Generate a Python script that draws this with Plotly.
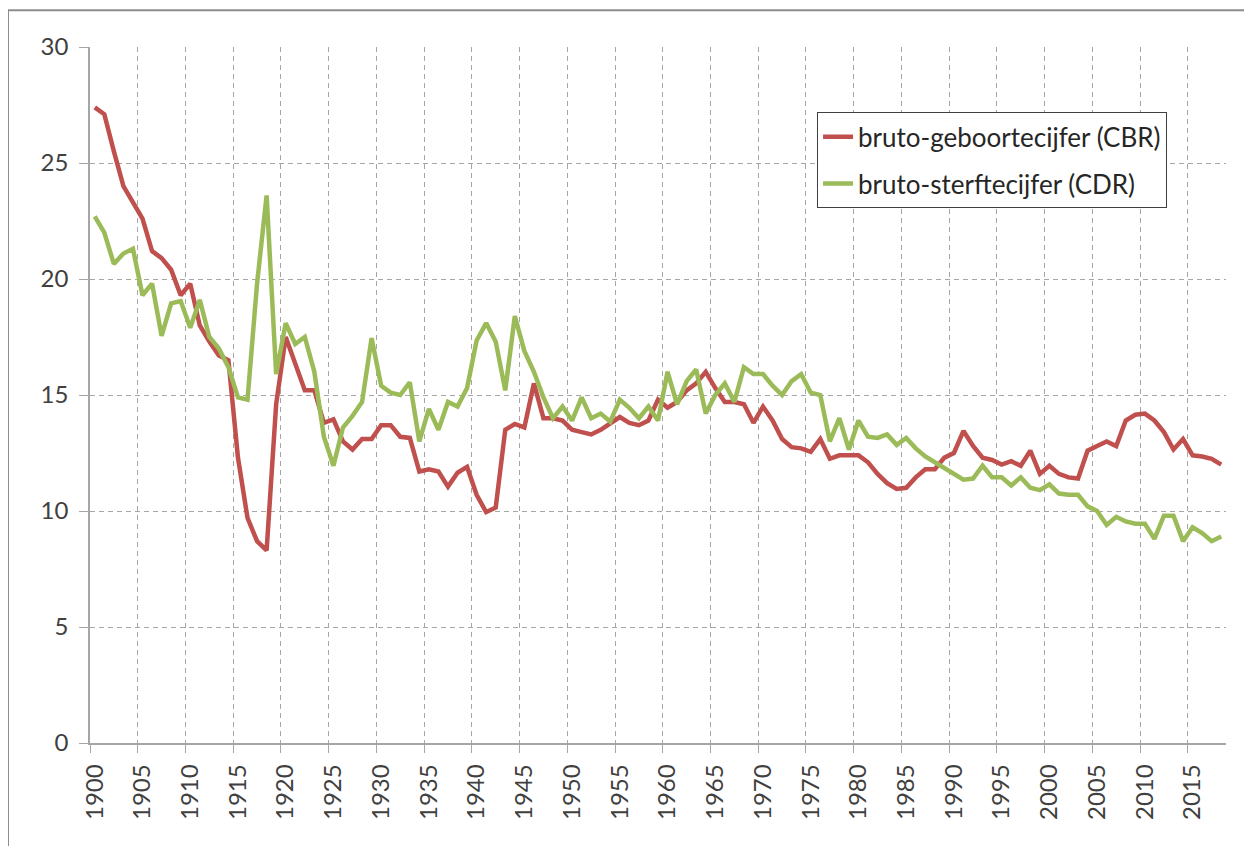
import plotly.graph_objects as go

years = list(range(1900, 2019))

# bruto-geboortecijfer (CBR), per 1000
cbr = [27.4, 27.1, 25.5, 24.0, 23.3, 22.6, 21.2, 20.9, 20.4, 19.3,
       19.8, 18.0, 17.3, 16.7, 16.5, 12.3, 9.7, 8.7, 8.3, 14.6,
       17.5, 16.4, 15.2, 15.2, 13.8, 13.95, 13.0, 12.65, 13.1, 13.1,
       13.7, 13.7, 13.2, 13.15, 11.7, 11.8, 11.7, 11.05, 11.65, 11.9,
       10.7, 9.95, 10.15, 13.5, 13.75, 13.6, 15.5, 14.0, 14.0, 13.9,
       13.5, 13.4, 13.3, 13.5, 13.8, 14.05, 13.8, 13.7, 13.9, 14.8,
       14.45, 14.7, 15.2, 15.5, 16.0, 15.3, 14.7, 14.7, 14.6, 13.8,
       14.5, 13.9, 13.1, 12.75, 12.7, 12.55, 13.1, 12.25, 12.4, 12.4,
       12.4, 12.1, 11.6, 11.2, 10.95, 11.0, 11.45, 11.8, 11.8, 12.3,
       12.5, 13.45, 12.8, 12.3, 12.2, 12.0, 12.15, 11.95, 12.6, 11.6,
       11.95, 11.6, 11.45, 11.4, 12.6, 12.8, 13.0, 12.8, 13.9, 14.15,
       14.2, 13.9, 13.4, 12.65, 13.1, 12.4, 12.35, 12.25, 12.0]

# bruto-sterftecijfer (CDR), per 1000
cdr = [22.7, 22.0, 20.65, 21.1, 21.3, 19.3, 19.8, 17.55, 18.95, 19.05,
       17.9, 19.1, 17.5, 17.0, 16.2, 14.9, 14.8, 19.8, 23.6, 15.9,
       18.1, 17.2, 17.5, 16.0, 13.2, 11.95, 13.6, 14.1, 14.7, 17.45,
       15.4, 15.1, 15.0, 15.55, 13.0, 14.4, 13.5, 14.7, 14.5, 15.3,
       17.35, 18.1, 17.3, 15.2, 18.4, 16.9, 16.0, 14.9, 14.0, 14.5,
       13.9, 14.9, 14.0, 14.2, 13.85, 14.8, 14.45, 14.0, 14.5, 13.9,
       16.0, 14.6, 15.6, 16.1, 14.2, 15.0, 15.5, 14.7, 16.2, 15.9,
       15.9, 15.4, 15.0, 15.6, 15.9, 15.1, 15.0, 13.0, 14.0, 12.65,
       13.9, 13.2, 13.15, 13.3, 12.85, 13.15, 12.7, 12.35, 12.1, 11.85,
       11.6, 11.35, 11.4, 11.95, 11.45, 11.45, 11.1, 11.45, 11.0, 10.9,
       11.15, 10.75, 10.7, 10.7, 10.2, 10.0, 9.4, 9.75, 9.55, 9.45,
       9.45, 8.8, 9.8, 9.8, 8.7, 9.3, 9.05, 8.7, 8.9]

label_years = list(range(1900, 2019, 5))
y_ticks = [0, 5, 10, 15, 20, 25, 30]

font = "Lato, 'Open Sans', sans-serif"
grid = "#A6A6A6"

fig = go.Figure()
fig.add_trace(go.Scatter(x=years, y=cbr, mode="lines", name="bruto-geboortecijfer (CBR)",
                         legendgroup="cbr", line=dict(color="#C0504D", width=4.5)))
fig.add_trace(go.Scatter(x=years, y=cdr, mode="lines", name="bruto-sterftecijfer (CDR)",
                         legendgroup="cdr", line=dict(color="#9BBB59", width=4.5)))

# page body has an 8px margin, so the margins are shifted to compensate
fig.update_layout(
    width=1252, height=846,
    margin=dict(l=82, r=34, t=39, b=111),
    paper_bgcolor="white", plot_bgcolor="white",
    font=dict(family=font, size=24, color="#404040"),
    legend=dict(x=0.64, y=0.906, xanchor="left", yanchor="top",
                bordercolor="#404040", borderwidth=1, bgcolor="white",
                font=dict(size=26, color="#262626"),
                traceorder="grouped", tracegroupgap=10),
    showlegend=True,
)

fig.update_xaxes(
    range=[1899.5, 2018.5],
    tickmode="array", tickvals=label_years, ticktext=[str(y) for y in label_years],
    tickangle=-90, ticks="", showgrid=False, zeroline=False,
    showline=True, linecolor=grid, linewidth=1.5,
    ticklabelstandoff=10,
    minor=dict(tickmode="array", tickvals=[y - 0.5 for y in label_years],
               ticks="outside", ticklen=8, tickcolor=grid,
               showgrid=True, gridcolor=grid, griddash="5px,4px", gridwidth=1),
)
fig.update_yaxes(
    range=[0, 30], tickmode="array", tickvals=y_ticks,
    ticks="outside", ticklen=9, tickcolor=grid,
    showgrid=True, gridcolor=grid, griddash="5px,4px", gridwidth=1,
    zeroline=False, showline=True, linecolor=grid, linewidth=1.5,
    ticklabelstandoff=6,
)

# outer chart frame (cut off at right and bottom like the screenshot)
fig.add_shape(type="line", xref="paper", yref="paper", x0=-0.0722, x1=-0.0722, y0=-0.3, y1=1.0527,
              line=dict(color="#8C8C8C", width=2))
fig.add_shape(type="line", xref="paper", yref="paper", x0=-0.0722, x1=1.1, y0=1.0527, y1=1.0527,
              line=dict(color="#8C8C8C", width=2))

fig.write_html("out.html")
